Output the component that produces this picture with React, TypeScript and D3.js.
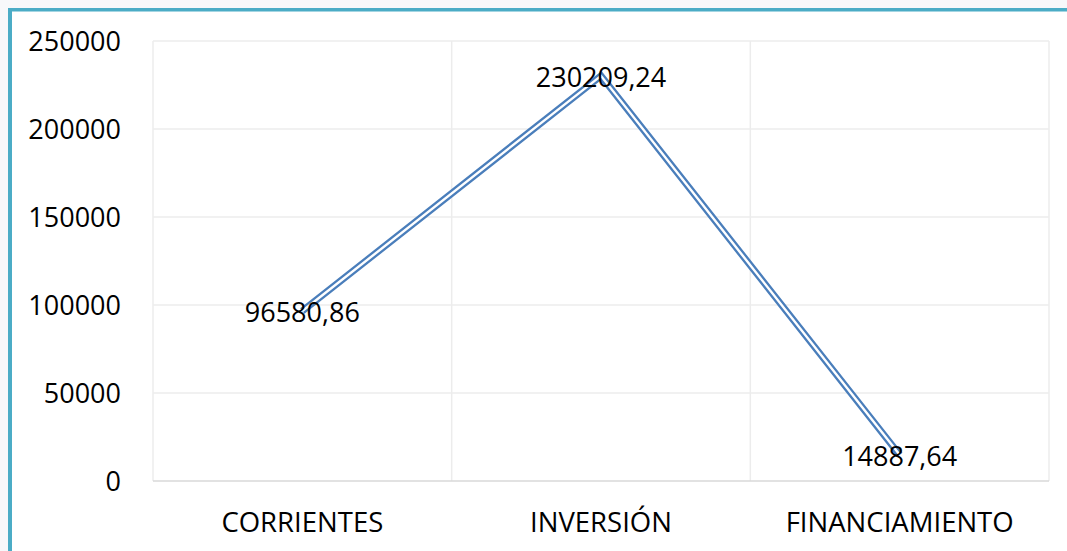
import * as d3 from 'd3'
import React from 'react'

const categories = ['CORRIENTES', 'INVERSIÓN', 'FINANCIAMIENTO']
const values = [96580.86, 230209.24, 14887.64]
const valueLabels = ['96580,86', '230209,24', '14887,64']
const yTicks = [0, 50000, 100000, 150000, 200000, 250000]

const W = 1067
const H = 551
const plot = { left: 153, top: 41, right: 1049, bottom: 481 }
const font = '"Open Sans", sans-serif'

const App = (): JSX.Element => {
    const x = d3.scaleBand().domain(categories).range([plot.left, plot.right])
    const y = d3.scaleLinear().domain([0, 250000]).range([plot.bottom, plot.top])

    const line = d3
        .line<number>()
        .x((d, i) => (x(categories[i]) as number) + x.bandwidth() / 2)
        .y((d) => y(d))

    const bounds = [...categories.map((c) => x(c) as number), plot.right]

    return (
        <svg width={W} height={H} style={{ position: 'absolute', left: 0, top: 0 }}>
            <rect x={0} y={0} width={W} height={H} fill="#f7f8fa" />
            <rect x={8} y={8} width={W} height={H} fill="#ffffff" />
            <rect x={8} y={8} width={W} height={3.5} fill="#4bacc6" />
            <rect x={8} y={8} width={4} height={H} fill="#4bacc6" />

            {/* gridlines */}
            {yTicks.slice(1).map((t) => (
                <line key={t} x1={plot.left} x2={plot.right} y1={y(t)} y2={y(t)} stroke="#ececec" strokeWidth={1.5} />
            ))}
            {bounds.map((b, i) => (
                <line key={i} x1={b} x2={b} y1={plot.top} y2={plot.bottom} stroke="#ececec" strokeWidth={1.5} />
            ))}
            <line x1={plot.left} x2={plot.right} y1={plot.bottom} y2={plot.bottom} stroke="#d9d9d9" strokeWidth={1.5} />

            {/* y tick labels */}
            {yTicks.map((t) => (
                <text key={t} x={121} y={y(t)} dy="0.36em" textAnchor="end" fontFamily={font} fontSize={27} fill="#000">
                    {t}
                </text>
            ))}

            {/* category labels */}
            {categories.map((c) => (
                <text
                    key={c}
                    x={(x(c) as number) + x.bandwidth() / 2}
                    y={532}
                    textAnchor="middle"
                    fontFamily={font}
                    fontSize={27.5}
                    fill="#000"
                >
                    {c}
                </text>
            ))}

            {/* double line */}
            <path d={line(values) as string} fill="none" stroke="#4a7ebb" strokeWidth={7} strokeLinejoin="miter" />
            <path d={line(values) as string} fill="none" stroke="#ffffff" strokeWidth={2.4} strokeLinejoin="miter" />

            {/* data labels */}
            {values.map((v, i) => (
                <text
                    key={i}
                    x={(x(categories[i]) as number) + x.bandwidth() / 2}
                    y={y(v)}
                    dy="0.4em"
                    textAnchor="middle"
                    fontFamily={font}
                    fontSize={27}
                    fill="#000"
                >
                    {valueLabels[i]}
                </text>
            ))}
        </svg>
    )
}

export default App
